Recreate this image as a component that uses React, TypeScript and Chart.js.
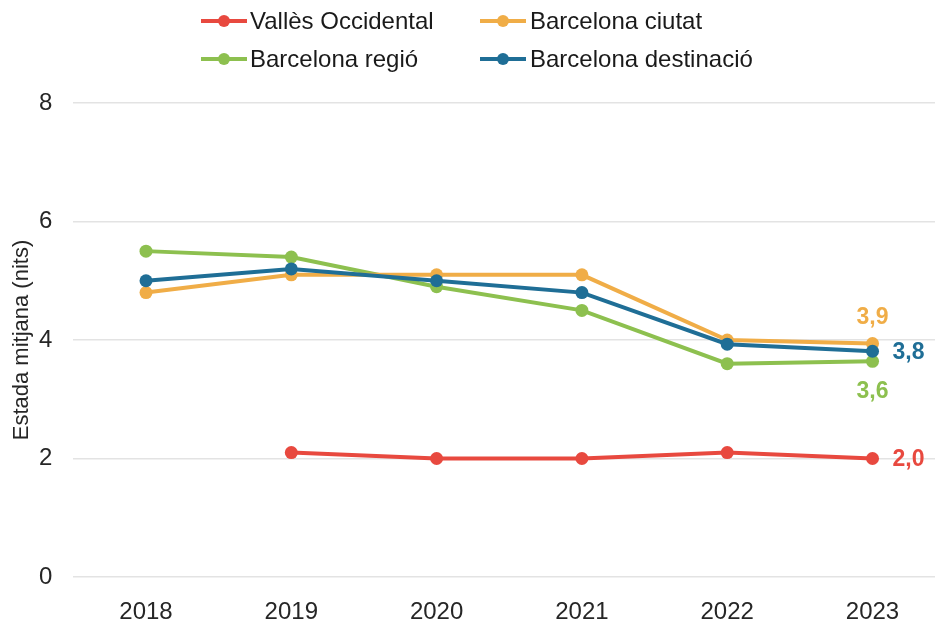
import React, { useEffect, useRef } from 'react';
import { Chart, registerables } from 'chart.js';

Chart.register(...registerables);

const years = [2018, 2019, 2020, 2021, 2022, 2023];
const seriesNames = ['Vallès Occidental', 'Barcelona ciutat', 'Barcelona regió', 'Barcelona destinació'];
const vallesOccidental = [null, 2.1, 2.0, 2.0, 2.1, 2.0];
const barcelonaCiutat = [4.8, 5.1, 5.1, 5.1, 4.0, 3.94];
const barcelonaRegio = [5.5, 5.4, 4.9, 4.5, 3.6, 3.64];
const barcelonaDestinacio = [5.0, 5.2, 5.0, 4.8, 3.93, 3.81];
const yTicks = [0, 2, 4, 6, 8];
const yTitle = 'Estada mitjana (nits)';

const seriesValues = [vallesOccidental, barcelonaCiutat, barcelonaRegio, barcelonaDestinacio];
const colors = ['#E8493F', '#F0AD47', '#8DC04F', '#1F6E96'];
const drawOrder = [3, 1, 2, 0];
const labelPlacement = ['right', 'above', 'below', 'right'];
const FONT = '"Liberation Sans", Arial, sans-serif';

const legendPlugin = {
  id: 'customLegend',
  afterDraw(chart: any) {
    const ctx = chart.ctx;
    const cols = [{ x0: 201, x1: 247, tx: 250 }, { x0: 480, x1: 526, tx: 530 }];
    const rows = [21, 59];
    ctx.save();
    ctx.font = `24px ${FONT}`;
    ctx.textBaseline = 'middle';
    ctx.textAlign = 'left';
    seriesNames.forEach((name, i) => {
      const c = cols[i % 2];
      const y = rows[Math.floor(i / 2)];
      ctx.strokeStyle = colors[i];
      ctx.lineWidth = 4;
      ctx.beginPath();
      ctx.moveTo(c.x0, y);
      ctx.lineTo(c.x1, y);
      ctx.stroke();
      ctx.fillStyle = colors[i];
      ctx.beginPath();
      ctx.arc((c.x0 + c.x1) / 2, y, 6, 0, Math.PI * 2);
      ctx.fill();
      ctx.fillStyle = '#1a1a1a';
      ctx.fillText(name, c.tx, y + 1);
    });
    ctx.restore();
  },
};

const endLabelPlugin = {
  id: 'endLabels',
  afterDatasetsDraw(chart: any) {
    const ctx = chart.ctx;
    ctx.save();
    ctx.font = `bold 23px ${FONT}`;
    ctx.textBaseline = 'middle';
    chart.data.datasets.forEach((ds: any, i: number) => {
      const meta = chart.getDatasetMeta(i);
      const last = meta.data[meta.data.length - 1];
      const v = seriesValues[i][seriesValues[i].length - 1];
      if (!last || v == null) return;
      const text = v.toFixed(1).replace('.', ',');
      ctx.fillStyle = colors[i];
      const p = labelPlacement[i];
      if (p === 'right') {
        ctx.textAlign = 'left';
        ctx.fillText(text, last.x + 20, last.y + 1);
      } else if (p === 'above') {
        ctx.textAlign = 'center';
        ctx.fillText(text, last.x, last.y - 26);
      } else {
        ctx.textAlign = 'center';
        ctx.fillText(text, last.x, last.y + 30);
      }
    });
    ctx.restore();
  },
};

export default function App() {
  const ref = useRef<HTMLCanvasElement>(null);
  useEffect(() => {
    document.body.style.margin = '0';
    if (!ref.current) return;
    Chart.defaults.font.family = FONT;
    const chart = new Chart(ref.current, {
      type: 'line',
      data: {
        datasets: seriesNames.map((name, i) => ({
          label: name,
          data: years.map((x, j) => ({ x, y: seriesValues[i][j] })),
          borderColor: colors[i],
          backgroundColor: colors[i],
          pointBackgroundColor: colors[i],
          pointBorderWidth: 0,
          pointRadius: 6.5,
          borderWidth: 4,
          tension: 0,
          clip: false,
          order: drawOrder[i],
        })) as any,
      },
      options: {
        animation: false,
        responsive: false,
        maintainAspectRatio: false,
        layout: { autoPadding: false, padding: { top: 103, left: 0, right: 0, bottom: 0 } },
        plugins: { legend: { display: false }, tooltip: { enabled: false } },
        scales: {
          x: {
            type: 'linear',
            min: 2017.5,
            max: 2023.43,
            grid: { display: false },
            border: { display: false },
            afterBuildTicks: (s: any) => {
              s.ticks = years.map((v) => ({ value: v }));
            },
            afterFit: (s: any) => {
              s.height = 42;
              s.paddingLeft = 0;
              s.paddingRight = 0;
            },
            ticks: {
              font: { size: 24, family: FONT },
              color: '#262626',
              padding: 13,
              autoSkip: false,
              maxRotation: 0,
              callback: (v: any) => String(v),
            },
          },
          y: {
            min: 0,
            max: 8,
            afterBuildTicks: (s: any) => {
              s.ticks = yTicks.map((v) => ({ value: v }));
            },
            afterFit: (s: any) => {
              s.width = 73.35;
            },
            grid: { color: '#e3e3e3', lineWidth: 1.5, drawTicks: false },
            border: { display: false },
            ticks: {
              font: { size: 24, family: FONT },
              color: '#262626',
              padding: 21,
            },
            title: {
              display: true,
              text: yTitle,
              font: { size: 22, family: FONT },
              color: '#262626',
              padding: { top: 9, bottom: 0 },
            },
          },
        },
      } as any,
      plugins: [legendPlugin, endLabelPlugin],
    });
    return () => chart.destroy();
  }, []);
  return (
    <div style={{ width: 935, height: 619 }}>
      <canvas ref={ref} width={935} height={619} style={{ display: 'block' }} />
    </div>
  );
}
